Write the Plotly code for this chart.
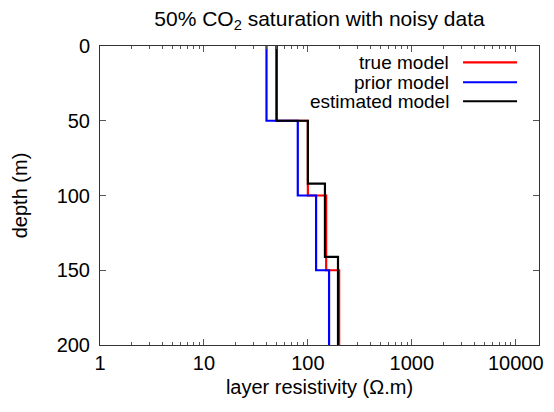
import plotly.graph_objects as go

# layer boundaries (depth, m) and layer resistivities (ohm.m)
true_depths = [0, 50, 100, 150, 200]
true_res = [50, 100, 150, 200]
prior_depths = [0, 50, 100, 150, 200]
prior_res = [40, 80, 120, 160]
est_depths = [0, 50, 92, 141, 200]
est_res = [50, 100, 146, 195]

series = [
    ("true model", true_depths, true_res, "#ff0000"),
    ("prior model", prior_depths, prior_res, "#0000ff"),
    ("estimated model", est_depths, est_res, "#000000"),
]

x_major = [1, 10, 100, 1000, 10000]
x_minor = [m * d for d in [1, 10, 100, 1000, 10000] for m in range(2, 10)]
y_ticks = [0, 50, 100, 150, 200]

FONT = "Liberation Sans, Arial, sans-serif"

fig = go.Figure()
for name, depths, res, color in series:
    fig.add_trace(go.Scatter(
        x=list(res) + [res[-1]], y=depths, mode="lines", name=name,
        line=dict(color=color, width=2.2, shape="vh"), showlegend=False,
    ))

# legend (gnuplot style: text right-aligned, sample to the right)
leg_y = [0.9455, 0.8787, 0.8152]
for (name, _, _, color), yy in zip(series, leg_y):
    fig.add_annotation(x=0.799, y=yy, xref="paper", yref="paper", text=name,
                       showarrow=False, xanchor="right", yanchor="middle",
                       font=dict(size=19, color="#000000", family=FONT))
    fig.add_shape(type="line", xref="paper", yref="paper", x0=0.827, x1=0.950,
                  y0=yy, y1=yy, line=dict(color=color, width=2.2))

axis_common = dict(showline=True, linecolor="#333333", linewidth=1, mirror="ticks",
                   ticks="inside", tickcolor="#555555", showgrid=False, zeroline=False,
                   automargin=False,
                   tickfont=dict(size=20, color="#000000", family=FONT))

fig.update_xaxes(type="log", range=[0, 4.224], tickvals=x_major,
                 ticktext=[str(v) for v in x_major], ticklen=6,
                 minor=dict(tickvals=x_minor, ticks="inside", ticklen=3, tickcolor="#555555"),
                 title=dict(text="layer resistivity (Ω.m)", font=dict(size=20, family=FONT, color="#000000"),
                            standoff=6),
                 **axis_common)
fig.update_yaxes(range=[200, 0], tickvals=y_ticks, ticklen=6, ticklabelstandoff=5,
                 title=dict(text="depth (m)", font=dict(size=20, family=FONT, color="#000000"),
                            standoff=23),
                 **axis_common)

fig.update_layout(
    width=554, height=412,
    margin=dict(l=100, r=15, t=46, b=67, autoexpand=False),
    paper_bgcolor="white", plot_bgcolor="white",
    title=dict(text="50% CO<sub>2</sub> saturation with noisy data", x=0.5, xref="paper",
               y=0.955, yref="container", yanchor="middle", automargin=False,
               font=dict(size=21, color="#000000", family=FONT)),
    font=dict(family=FONT),
)

fig.write_html("out.html", config={"displayModeBar": False},
               post_script="document.body.style.margin='0';document.body.style.overflow='hidden';")
